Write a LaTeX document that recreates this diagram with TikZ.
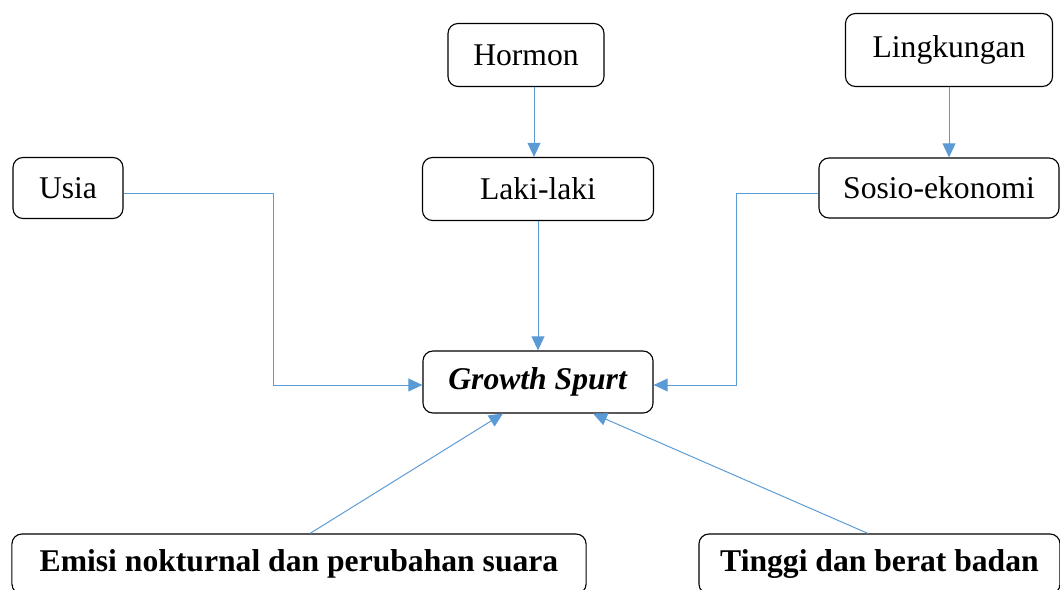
\documentclass[tikz,border=0pt]{standalone}
\usepackage{fontspec}
\setmainfont{Liberation Serif}
\usetikzlibrary{arrows.meta}
\definecolor{panah}{HTML}{5B9BD5}
\tikzset{
  kotak/.style={rectangle, draw=black, line width=0.8pt, rounded corners=0.25cm, fill=white, inner sep=0pt,
    font=\fontsize{22.5}{27}\selectfont},
  arr/.style={draw=panah, line width=0.7pt, -{Triangle[length=0.35cm, width=0.32cm]}}
}
\begin{document}
\begin{tikzpicture}[x=0.025cm, y=-0.025cm]
        \useasboundingbox (0,0) rectangle (1060,590);
        % Kotak
        \node[kotak, minimum width=3.9cm, minimum height=1.575cm] (hormon) at (526,55) {Hormon};
        \node[kotak, minimum width=5.175cm, minimum height=1.825cm] (lingk) at (949,50) {Lingkungan};
        \node[kotak, minimum width=2.75cm, minimum height=1.525cm] (usia) at (68,188) {Usia};
        \node[kotak, minimum width=5.775cm, minimum height=1.575cm] (laki) at (538,189) {Laki-laki};
        \node[kotak, minimum width=6cm, minimum height=1.5cm] (sosio) at (939,188) {Sosio-ekonomi};
        \node[kotak, minimum width=5.75cm, minimum height=1.55cm] (growth) at (538,382) {\textbf{\textit{Growth Spurt}}};
        \node[kotak, minimum width=14.35cm, minimum height=1.5cm] (emisi) at (299,564) {\textbf{Emisi nokturnal dan perubahan suara}};
        \node[kotak, minimum width=9.025cm, minimum height=1.5cm] (tinggi) at (879.5,564) {\textbf{Tinggi dan berat badan}};

        % Titik belok dan ujung panah
        \coordinate (ukol) at (273,300);
        \coordinate (skol) at (736,300);
        \coordinate (hs) at ([xshift=0.2cm]hormon.south);
        \coordinate (ue) at ([yshift=-0.125cm]usia.east);
        \coordinate (sw) at ([yshift=-0.125cm]sosio.west);
        \coordinate (gw) at ([yshift=-0.075cm]growth.west);
        \coordinate (ge) at ([yshift=-0.075cm]growth.east);
        \coordinate (gkiri) at ([xshift=-0.875cm]growth.south);
        \coordinate (gkanan) at ([xshift=1.375cm]growth.south);

        % Panah
        \draw[arr] (hs) -- (hs |- laki.north);
        \draw[arr] (lingk.south) -- (lingk.south |- sosio.north);
        \draw[arr] (ue) -- (ue -| ukol) |- (gw);
        \draw[arr] (laki.south) -- (growth.north);
        \draw[arr] (sw) -- (sw -| skol) |- (ge);
        \draw[arr] ([xshift=0.275cm]emisi.north) -- (gkiri);
        \draw[arr] ([xshift=-0.29cm]tinggi.north) -- (gkanan);
    \end{tikzpicture}
\end{document}
